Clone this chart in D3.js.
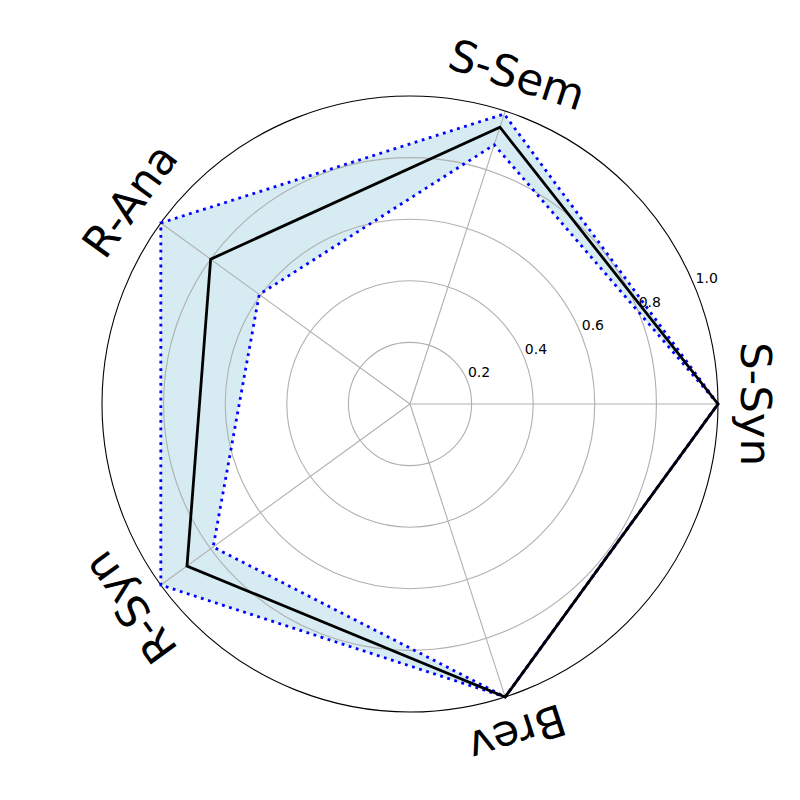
<!DOCTYPE html>
<html>
<head>
<meta charset="utf-8">
<script src="https://cdn.jsdelivr.net/npm/d3@7"></script>
<style>
  body { margin: 0; background: #fff; }
  text { font-family: "DejaVu Sans", sans-serif; }
</style>
</head>
<body>
<div id="chart"></div>
<script>
var categories = ["S-Syn", "S-Sem", "R-Ana", "R-Syn", "Brev"];
var meanValues = [1.0, 0.945, 0.80, 0.895, 1.0];
var upperValues = [1.0, 0.99, 1.0, 1.0, 1.0];
var lowerValues = [1.0, 0.885, 0.605, 0.79, 1.0];
var tickValues = [0.2, 0.4, 0.6, 0.8, 1.0];

var width = 800, height = 800,
    cx = 410, cy = 404,
    outerRadius = 308;

var svg = d3.select("#chart").append("svg")
    .attr("width", width)
    .attr("height", height);

var g = svg.append("g")
    .attr("transform", "translate(" + cx + "," + cy + ")");

var r = d3.scaleLinear().domain([0, 1]).range([0, outerRadius]);

// theta in math convention (ccw from east)
var theta = function(i) { return i * 2 * Math.PI / categories.length; };

var line = d3.lineRadial()
    .angle(function(d, i) { return Math.PI / 2 - theta(i); })
    .radius(function(d) { return r(d); })
    .curve(d3.curveLinearClosed);

// band between lower and upper
g.append("path")
    .attr("d", line(upperValues) + line(lowerValues))
    .attr("fill-rule", "evenodd")
    .style("fill", "#add8e6")
    .style("fill-opacity", 0.5);

// grid circles
g.selectAll(".grid")
    .data(tickValues.slice(0, -1))
  .enter().append("circle")
    .attr("r", function(d) { return r(d); })
    .style("fill", "none")
    .style("stroke", "#b0b0b0")
    .style("stroke-width", 1.1);

// spokes
g.selectAll(".spoke")
    .data(categories)
  .enter().append("line")
    .attr("x1", 0).attr("y1", 0)
    .attr("x2", function(d, i) { return r(1) * Math.cos(theta(i)); })
    .attr("y2", function(d, i) { return -r(1) * Math.sin(theta(i)); })
    .style("stroke", "#b0b0b0")
    .style("stroke-width", 1.1);

// outer spine
g.append("circle")
    .attr("r", r(1))
    .style("fill", "none")
    .style("stroke", "#000")
    .style("stroke-width", 1.1);

// tick labels at 22.5 deg
var labelAngle = 22.5 * Math.PI / 180;
g.selectAll(".tick")
    .data(tickValues)
  .enter().append("text")
    .attr("x", function(d) { return r(d) * Math.cos(labelAngle) + 1; })
    .attr("y", function(d) { return -r(d) * Math.sin(labelAngle) - 3; })
    .style("font-size", "14px")
    .style("fill", "#000")
    .text(function(d) { return d3.format(".1f")(d); });

// bounds (dotted)
[upperValues, lowerValues].forEach(function(vals) {
  g.append("path")
      .attr("d", line(vals))
      .style("fill", "none")
      .style("stroke", "#0000ff")
      .style("stroke-width", 2.8)
      .style("stroke-dasharray", "2.8,4.6")
      .style("stroke-linecap", "butt");
});

// mean
g.append("path")
    .attr("d", line(meanValues))
    .style("fill", "none")
    .style("stroke", "#000")
    .style("stroke-width", 2.8)
    .style("stroke-linejoin", "miter");

// category labels
var labelRadius = 346;
g.selectAll(".cat")
    .data(categories)
  .enter().append("text")
    .attr("transform", function(d, i) {
      var x = labelRadius * Math.cos(theta(i)),
          y = -labelRadius * Math.sin(theta(i)),
          rot = 90 - theta(i) * 180 / Math.PI;
      return "translate(" + x + "," + y + ") rotate(" + rot + ")";
    })
    .attr("text-anchor", "middle")
    .attr("dominant-baseline", "central")
    .style("font-size", "43.5px")
    .style("fill", "#000")
    .text(function(d) { return d; });
</script>
</body>
</html>
